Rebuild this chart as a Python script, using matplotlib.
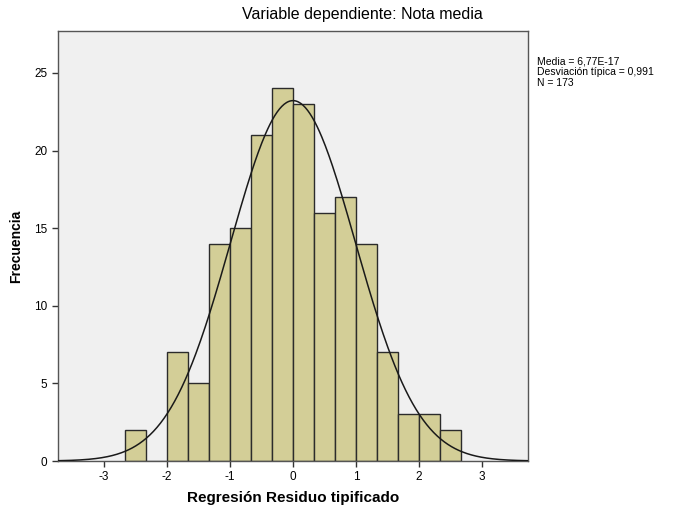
import numpy as np
import matplotlib
matplotlib.use("Agg")
import matplotlib.pyplot as plt

plt.rcParams['font.family'] = ['Liberation Sans', 'DejaVu Sans']

bin_edges = [-8/3, -7/3, -2, -5/3, -4/3, -1, -2/3, -1/3, 0, 1/3, 2/3, 1, 4/3, 5/3, 2, 7/3, 8/3]
counts = [2, 0, 7, 5, 14, 15, 21, 24, 23, 16, 17, 14, 7, 3, 3, 2]
mean = 6.77e-17
sd = 0.991
n = 173
xticks = [-3, -2, -1, 0, 1, 2, 3]
yticks = [0, 5, 10, 15, 20, 25]

fig = plt.figure(figsize=(6.74, 5.16), dpi=100)
ax = fig.add_axes([58/674, 55/516, 470/674, 430/516])
ax.set_facecolor('#F0F0F0')

lefts = np.array(bin_edges[:-1])
widths = np.diff(bin_edges)
ax.bar(lefts, counts, width=widths, align='edge', color='#D3CE97',
       edgecolor='#2b2b2b', linewidth=1.0, zorder=2)

xs = np.linspace(-3.73, 3.73, 400)
bw = widths[0]
ys = n * bw / (sd * np.sqrt(2 * np.pi)) * np.exp(-0.5 * ((xs - mean) / sd) ** 2)
ax.plot(xs, ys, color='#1a1a1a', linewidth=1.1, zorder=3)

ax.set_xlim(-3.73, 3.73)
ax.set_ylim(0, 27.7)
ax.set_xticks(xticks)
ax.set_xticklabels([str(t) for t in xticks])
ax.set_yticks(yticks)
ax.set_yticklabels([str(t) for t in yticks])
ax.tick_params(axis='both', labelsize=8.5, length=4, width=1, color='#333333', direction='out')
for s in ax.spines.values():
    s.set_color('#555555')
    s.set_linewidth(1.0)

fig.text(293/674, 1 - 498/516, 'Regresión Residuo tipificado', fontsize=11,
         fontweight='bold', ha='center', va='center')
fig.text(16/674, 1 - 246/516, 'Frecuencia', fontsize=10, fontweight='bold',
         ha='center', va='center', rotation=90)
fig.text(362/674, 1 - 14/516, 'Variable dependiente: Nota media', fontsize=11.5,
         ha='center', va='center')
fig.text(537/674, 1 - 56/516,
         'Media = 6,77E-17\nDesviación típica = 0,991\nN = 173',
         fontsize=7.5, ha='left', va='top', linespacing=1.1)

fig.savefig('out.png', dpi=100)
